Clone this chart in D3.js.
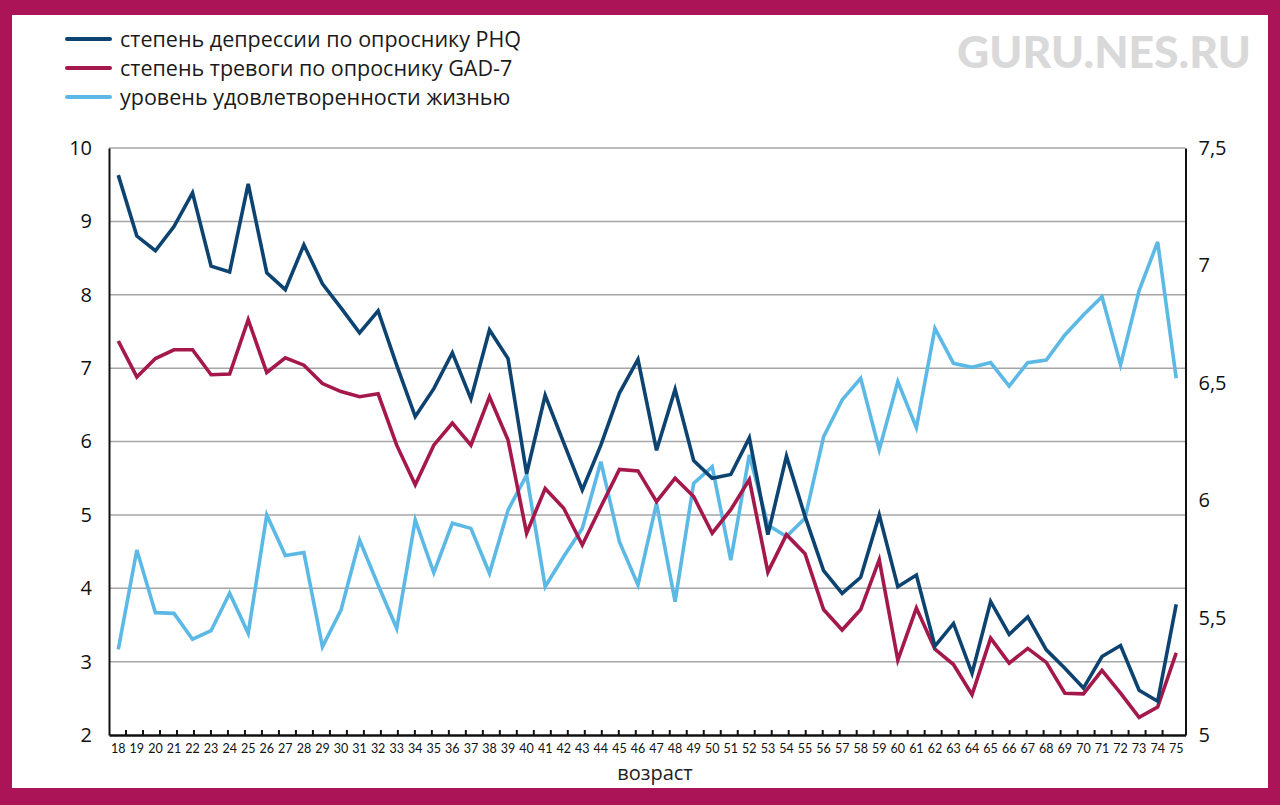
<!DOCTYPE html>
<html><head><meta charset="utf-8">
<script src="https://cdn.jsdelivr.net/npm/d3@7"></script>
<style>html,body{margin:0;padding:0;background:#fff;}svg{display:block;}</style>
</head><body>
<svg id="c" width="1280" height="805"></svg>
<script>
const ages = d3.range(18, 76);
const phq = [9.63,8.80,8.60,8.93,9.39,8.39,8.31,9.51,8.30,8.07,8.68,8.15,7.82,7.48,7.78,7.04,6.34,6.72,7.21,6.58,7.52,7.13,5.56,6.63,5.98,5.34,5.95,6.66,7.12,5.88,6.71,5.74,5.50,5.55,6.05,4.73,5.80,4.98,4.24,3.93,4.15,5.00,4.02,4.18,3.21,3.52,2.84,3.82,3.37,3.61,3.16,2.91,2.64,3.07,3.22,2.61,2.46,3.78];
const gad = [7.37,6.88,7.13,7.25,7.25,6.91,6.92,7.66,6.94,7.14,7.04,6.79,6.68,6.61,6.65,5.95,5.41,5.95,6.25,5.95,6.61,6.02,4.75,5.36,5.09,4.59,5.11,5.62,5.60,5.18,5.50,5.25,4.75,5.07,5.48,4.22,4.73,4.47,3.71,3.43,3.71,4.39,3.02,3.73,3.17,2.96,2.55,3.32,2.98,3.18,2.99,2.57,2.56,2.88,2.57,2.24,2.38,3.12];
const sat = [5.365,5.788,5.521,5.518,5.408,5.444,5.604,5.433,5.937,5.764,5.777,5.376,5.532,5.830,5.639,5.454,5.916,5.691,5.902,5.880,5.689,5.958,6.107,5.632,5.760,5.880,6.164,5.823,5.639,5.987,5.568,6.072,6.143,5.745,6.193,5.894,5.845,5.923,6.270,6.427,6.519,6.215,6.505,6.309,6.732,6.583,6.566,6.586,6.486,6.586,6.597,6.704,6.789,6.867,6.576,6.893,7.100,6.519];
const leftTicks = [2,3,4,5,6,7,8,9,10];
const rightTicks = [5,5.5,6,6.5,7,7.5];
const seriesNames = ["степень депрессии по опроснику PHQ","степень тревоги по опроснику GAD-7","уровень удовлетворенности жизнью"];
const colors = ["#0d4371","#a5184b","#5cb9e6"];
const frameColor = "#ab1558";

const svg = d3.select("#c");
// frame
svg.append("rect").attr("x",0).attr("y",0).attr("width",1280).attr("height",805).attr("fill",frameColor);
svg.append("rect").attr("x",12).attr("y",15).attr("width",1256).attr("height",773).attr("fill","#fff");

const L = 109, R = 1185.5, T = 148, B = 735;
const x = d3.scaleBand().domain(ages).range([L, R]);
const yL = d3.scaleLinear().domain([2,10]).range([B,T]);
const yR = d3.scaleLinear().domain([5,7.5]).range([B,T]);

// gridlines
svg.append("g").selectAll("line").data(leftTicks.filter(d=>d>2)).join("line")
  .attr("x1",L).attr("x2",R).attr("y1",d=>yL(d)).attr("y2",d=>yL(d))
  .attr("stroke","#a6a6a6").attr("stroke-width",1.5);

// left axis
const gl = svg.append("g").attr("transform",`translate(${L},0)`)
  .call(d3.axisLeft(yL).tickValues(leftTicks).tickSize(0).tickPadding(17).tickFormat(d3.format("d")));
gl.select(".domain").attr("stroke","#111").attr("stroke-width",2);
gl.selectAll("text").attr("font-family","'Open Sans', Lato, sans-serif").attr("font-size",20).attr("fill","#111");

// right axis
const fmtR = d => String(d).replace(".", ",");
const gr = svg.append("g").attr("transform",`translate(${R},0)`)
  .call(d3.axisRight(yR).tickValues(rightTicks).tickSize(0).tickPadding(13).tickFormat(fmtR));
gr.select(".domain").attr("stroke","#111").attr("stroke-width",2);
gr.selectAll("text").attr("font-family","'Open Sans', Lato, sans-serif").attr("font-size",20).attr("fill","#111");

// bottom axis
const gb = svg.append("g").attr("transform",`translate(0,${B})`)
  .call(d3.axisBottom(x).tickSize(0).tickPadding(9));
gb.select(".domain").attr("stroke","#111").attr("stroke-width",2.5);
gb.selectAll("text").attr("font-family","Lato, 'Open Sans', sans-serif").attr("font-size",12.5).attr("fill","#111");
// small tick marks (evenly spaced, as in the reference)
const tk = d3.scaleLinear().domain([0,63.35]).range([L,R]);
svg.append("g").selectAll("line").data(d3.range(1,63)).join("line")
  .attr("x1",d=>tk(d)).attr("x2",d=>tk(d)).attr("y1",B).attr("y2",B-5)
  .attr("stroke","#111").attr("stroke-width",2);

svg.append("text").attr("x",655).attr("y",780).attr("text-anchor","middle")
  .attr("font-family","'Open Sans', Lato, sans-serif").attr("font-size",20).attr("fill","#222").text("возраст");

// lines
const cx = d => x(d) + x.bandwidth()/2;
const lineL = d3.line().x((d,i)=>cx(ages[i])).y(d=>yL(d));
const lineR = d3.line().x((d,i)=>cx(ages[i])).y(d=>yR(d));
svg.append("path").datum(sat).attr("d",lineR).attr("fill","none").attr("stroke",colors[2]).attr("stroke-width",3.6).attr("stroke-linejoin","miter");
svg.append("path").datum(gad).attr("d",lineL).attr("fill","none").attr("stroke",colors[1]).attr("stroke-width",3.6).attr("stroke-linejoin","miter");
svg.append("path").datum(phq).attr("d",lineL).attr("fill","none").attr("stroke",colors[0]).attr("stroke-width",3.6).attr("stroke-linejoin","miter");

// legend
const lg = svg.append("g");
seriesNames.forEach((n,i)=>{
  const yy = 39 + i*29;
  lg.append("line").attr("x1",67).attr("x2",110).attr("y1",yy).attr("y2",yy)
    .attr("stroke",colors[i]).attr("stroke-width",4).attr("stroke-linecap","round");
  lg.append("text").attr("x",120).attr("y",yy+7.5).attr("font-family","'Open Sans', Lato, sans-serif")
    .attr("font-size",21.5).attr("fill","#1a1a1a").text(n);
});

// watermark
svg.append("text").attr("x",1251).attr("y",68).attr("text-anchor","end")
  .attr("font-family","Lato, 'Open Sans', sans-serif").attr("font-weight",900).attr("font-size",44.5)
  .attr("fill","#d9d9d9").text("GURU.NES.RU");
</script>
</body></html>
